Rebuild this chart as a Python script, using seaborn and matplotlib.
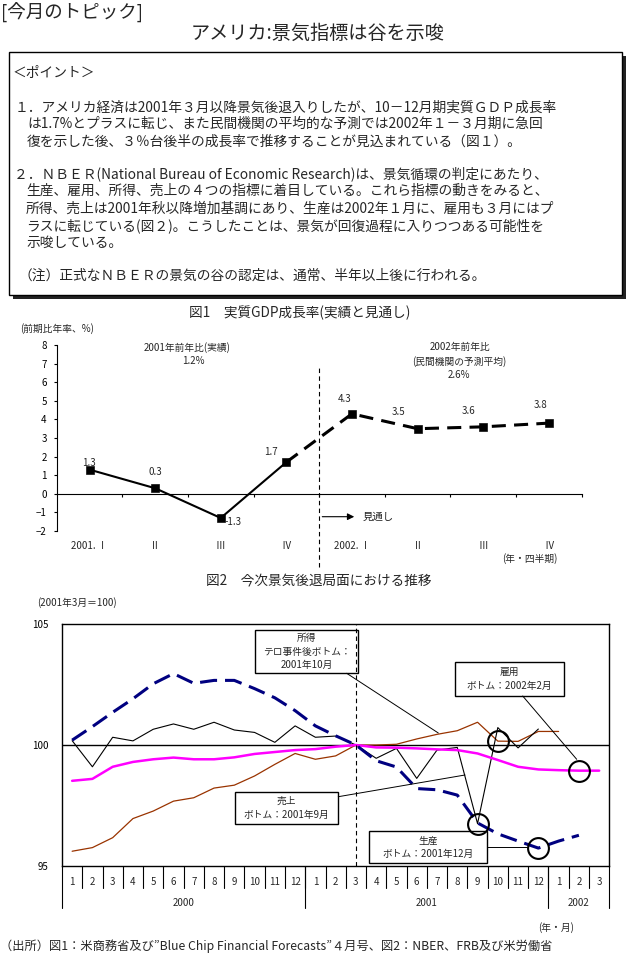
# Recreate: US business cycle topic page (GDP forecast + NBER indicators)
import numpy as np
import pandas as pd
import matplotlib
matplotlib.use("Agg")
import matplotlib.pyplot as plt
from matplotlib.patches import Rectangle
import seaborn as sns

# ---- data ----
# Fig.1 real GDP growth (q/q annualised, %)
quarters = ["2001. Ⅰ", "Ⅱ", "Ⅲ", "Ⅳ", "2002. Ⅰ", "Ⅱ", "Ⅲ", "Ⅳ"]
gdp = [1.3, 0.3, -1.3, 1.7, 4.3, 3.5, 3.6, 3.8]
n_actual = 4  # 2001 I-IV are actual, the rest forecast

# Fig.2 indicators (2001/3 = 100), monthly from 2000/1
months = ["1", "2", "3", "4", "5", "6", "7", "8", "9", "10", "11", "12",
          "1", "2", "3", "4", "5", "6", "7", "8", "9", "10", "11", "12",
          "1", "2", "3"]
years = ["2000", "2001", "2002"]
year_spans = [12, 12, 3]
base_month = 14  # 2001/3

production = [100.2, 100.76, 101.35, 101.91, 102.53, 102.95, 102.55, 102.67, 102.67,
              102.33, 101.95, 101.42, 100.79, 100.38, 100.0, 99.35, 99.09, 98.2,
              98.15, 97.93, 96.78, 96.33, 96.03, 95.74, 96.03, 96.27]
sales = [100.18, 99.1, 100.32, 100.17, 100.65, 100.87, 100.65, 100.94, 100.62,
         100.52, 100.11, 100.79, 100.32, 100.37, 100.0, 99.45, 99.86, 98.62,
         99.79, 99.9, 96.75, 100.72, 99.88, 100.66]
employment = [98.52, 98.6, 99.1, 99.3, 99.41, 99.48, 99.41, 99.41, 99.49, 99.63,
              99.71, 99.79, 99.83, 99.93, 100.0, 99.9, 99.89, 99.86, 99.82, 99.79,
              99.65, 99.38, 99.1, 98.99, 98.96, 98.94, 98.94]
income = [95.61, 95.76, 96.17, 96.96, 97.27, 97.68, 97.82, 98.22, 98.34, 98.72,
          99.2, 99.65, 99.41, 99.55, 100.0, 100.0, 100.03, 100.25, 100.44, 100.59,
          100.94, 100.16, 100.15, 100.56, 100.56]

# bottoms marked with circles (month index)
bottom_income = 21
bottom_sales = 20
bottom_production = 23
bottom_employment = 25

# ---- style ----
sns.set_theme(style="white")
plt.rcParams["font.family"] = ["Noto Sans CJK JP", "DejaVu Sans"]
plt.rcParams["axes.linewidth"] = 0.8

W, H = 643, 965
fig = plt.figure(figsize=(W / 100, H / 100), dpi=100)


def rect(x0, y0, x1, y1):
    # pixel box (top-left origin) -> figure fraction
    return [x0 / W, 1 - y1 / H, (x1 - x0) / W, (y1 - y0) / H]


ax1 = fig.add_axes(rect(56.7, 345, 581.6, 531))
ax2 = fig.add_axes(rect(62, 624, 609.3, 866))
ax0 = fig.add_axes([0, 0, 1, 1])
ax0.set_xlim(0, W)
ax0.set_ylim(H, 0)
ax0.axis("off")

# ---- header and point box ----
ax0.text(1, 12, "[今月のトピック]", fontsize=13.3, ha="left", va="center")
ax0.text(318, 33, "アメリカ:景気指標は谷を示唆", fontsize=13.8, ha="center", va="center")

ax0.add_patch(Rectangle((13, 56), 613, 243, facecolor="#222222", edgecolor="none"))
ax0.add_patch(Rectangle((9, 52.3), 613, 243, facecolor="white", edgecolor="black", lw=1))

point_lines = [
    (12.5, 72.7, "＜ポイント＞"),
    (14.3, 107.3, "１．アメリカ経済は2001年３月以降景気後退入りしたが、10－12月期実質ＧＤＰ成長率"),
    (27, 124, "は1.7%とプラスに転じ、また民間機関の平均的な予測では2002年１－３月期に急回"),
    (27, 141.7, "復を示した後、３％台後半の成長率で推移することが見込まれている（図１）。"),
    (14.3, 174, "２．ＮＢＥＲ(National Bureau of Economic Research)は、景気循環の判定にあたり、"),
    (26, 191, "生産、雇用、所得、売上の４つの指標に着目している。これら指標の動きをみると、"),
    (26, 208.3, "所得、売上は2001年秋以降増加基調にあり、生産は2002年１月に、雇用も３月にはプ"),
    (26, 225.7, "ラスに転じている(図２)。こうしたことは、景気が回復過程に入りつつある可能性を"),
    (26, 242.7, "示唆している。"),
    (18.7, 276, "（注）正式なＮＢＥＲの景気の谷の認定は、通常、半年以上後に行われる。"),
]
for x, y, s in point_lines:
    ax0.text(x, y, s, fontsize=9.9, ha="left", va="center")

# ---- Fig.1 ----
ax0.text(300, 312.7, "図1　実質GDP成長率(実績と見通し)", fontsize=9.8, ha="center", va="center")
q_pos = np.arange(len(quarters))
sns.lineplot(x=q_pos[:n_actual], y=gdp[:n_actual], ax=ax1, color="black", linewidth=1.5)
sns.lineplot(x=q_pos[n_actual - 1:], y=gdp[n_actual - 1:], ax=ax1, color="black",
             linewidth=2.2, linestyle=(0, (4.6, 2.7)))
sns.scatterplot(x=q_pos, y=gdp, ax=ax1, marker="s", s=30, color="black",
                edgecolor="black", zorder=3)
ax1.set_xlim(-0.5, len(quarters) - 0.5)
ax1.set_ylim(-2, 8)
ax1.set_yticks(range(-2, 9))
ax1.set_xticks(q_pos + 0.5)
ax1.set_xticklabels([])
ax1.set_xlabel("")
ax1.set_ylabel("")
for side in ["top", "right"]:
    ax1.spines[side].set_visible(False)
ax1.spines["bottom"].set_position(("data", 0))
ax1.spines["left"].set_color("black")
ax1.spines["bottom"].set_color("black")
ax1.tick_params(axis="y", direction="out", length=2.2, width=0.8, pad=5,
                labelsize=7, colors="black", left=True)
ax1.tick_params(axis="x", direction="out", length=2.5, width=0.8, bottom=True,
                colors="black")
ax1.set_facecolor("none")

for i, q in enumerate(quarters):
    ax1.text(i, -0.079, q, transform=ax1.get_xaxis_transform(), fontsize=7,
             ha="center", va="center")

label_offsets = [(-1, 7), (0, 16), (12, -4), (-15, 10), (-7, 15), (-19, 17), (-15, 16), (-8, 18)]
for i, v in enumerate(gdp):
    ax1.annotate(f"{v:.1f}", (i, v), xytext=label_offsets[i], textcoords="offset pixels",
                 fontsize=7, ha="center", va="center")

ax1.axvline(n_actual - 0.5, ymin=-0.192, ymax=0.883, color="black", lw=0.8,
            linestyle=(0, (4, 3)), clip_on=False)

ax0.text(57.3, 328.3, "(前期比年率、%)", fontsize=7, ha="center", va="center")
ax0.text(186.7, 347.7, "2001年前年比(実績)", fontsize=7, ha="center", va="center")
ax0.text(193, 361, "1.2%", fontsize=7, ha="center", va="center")
ax0.text(460, 346.7, "2002年前年比", fontsize=7, ha="center", va="center")
ax0.text(459, 361.7, "(民間機関の予測平均)", fontsize=7, ha="center", va="center")
ax0.text(459, 375, "2.6%", fontsize=7, ha="center", va="center")
ax0.text(530, 558.7, "(年・四半期)", fontsize=7, ha="center", va="center")
ax0.annotate("", xy=(357, 516.7), xytext=(319.5, 516.7),
             arrowprops=dict(arrowstyle="-|>", color="black", lw=0.8, mutation_scale=10))
ax0.text(363, 516.7, "見通し", fontsize=7.5, ha="left", va="center")

# ---- Fig.2 ----
ax0.text(319, 581, "図2　今次景気後退局面における推移", fontsize=9.8, ha="center", va="center")
ax0.text(77, 603, "(2001年3月＝100)", fontsize=7, ha="center", va="center")

m_pos = np.arange(len(months))
ax2.axhline(100, color="black", lw=1, zorder=1)
sns.lineplot(x=m_pos[:len(income)], y=income, ax=ax2, color="#993300", linewidth=0.9)
sns.lineplot(x=m_pos[:len(sales)], y=sales, ax=ax2, color="black", linewidth=0.8)
sns.lineplot(x=m_pos[:len(employment)], y=employment, ax=ax2, color="#FF00FF", linewidth=1.8)
sns.lineplot(x=m_pos[:len(production)], y=production, ax=ax2, color="#000080",
             linewidth=2.2, linestyle=(0, (5.6, 2.6)))
ax2.axvline(base_month, color="black", lw=0.8, linestyle=(0, (4, 3)))

# circles on the bottoms
bx = [bottom_income, bottom_sales, bottom_production, bottom_employment]
by = [income[bottom_income], sales[bottom_sales], production[bottom_production],
      employment[bottom_employment]]
ax2.plot(bx, by, linestyle="none", marker="o", markersize=15, markerfacecolor="none",
         markeredgecolor="black", markeredgewidth=1.5, zorder=5)

ax2.set_xlim(-0.5, len(months) - 0.5)
ax2.set_ylim(95, 105)
ax2.set_yticks([95, 100, 105])
ax2.set_xticks([])
ax2.set_xlabel("")
ax2.set_ylabel("")
for sp in ax2.spines.values():
    sp.set_color("black")
    sp.set_linewidth(1)
ax2.tick_params(axis="y", length=0, pad=10, labelsize=7, colors="black")
ax2.set_facecolor("none")

tr = ax2.get_xaxis_transform()
for i, m in enumerate(months):
    ax2.text(i, -0.066, m, transform=tr, fontsize=7, ha="center", va="center")
for k in range(1, len(months)):
    ax2.plot([k - 0.5, k - 0.5], [0, -0.091], transform=tr, color="black", lw=0.8,
             clip_on=False)
start = 0
edges = [start]
for y_lab, span in zip(years, year_spans):
    ax2.text(start + span / 2 - 0.5, -0.152, y_lab, transform=tr, fontsize=7,
             ha="center", va="center")
    start += span
    edges.append(start)
for e in edges:
    ax2.plot([e - 0.5, e - 0.5], [0, -0.174], transform=tr, color="black", lw=0.8,
             clip_on=False)

# callouts
callouts = [
    ("所得\nテロ事件後ボトム：\n2001年10月", (255, 630, 358.3, 673), (346.7, 673.3), (438.3, 733)),
    ("雇用\nボトム：2002年2月", (455, 661.7, 564.3, 695.7), (522.7, 696), (576.7, 759.3)),
    ("売上\nボトム：2001年9月", (235, 791.7, 338.3, 824.3), (338.3, 796.7), (465, 775)),
    ("生産\nボトム：2001年12月", (369.3, 831, 487.3, 863.3), (487.3, 847.3), (526.7, 847.3)),
]
for txt, (x0, y0, x1, y1), p0, p1 in callouts:
    ax0.add_patch(Rectangle((x0, y0), x1 - x0, y1 - y0, facecolor="none",
                            edgecolor="black", lw=1))
    ax0.text((x0 + x1) / 2, (y0 + y1) / 2, txt, fontsize=7, ha="center", va="center",
             linespacing=1.45)
    ax0.plot([p0[0], p1[0]], [p0[1], p1[1]], color="black", lw=0.7)

ax0.text(556, 928, "(年・月)", fontsize=7, ha="center", va="center")
ax0.text(0, 946, "（出所）図1：米商務省及び”Blue Chip Financial Forecasts”４月号、図2：NBER、FRB及び米労働省",
         fontsize=8.8, ha="left", va="center")

fig.savefig("out.png", dpi=100, facecolor="white")
